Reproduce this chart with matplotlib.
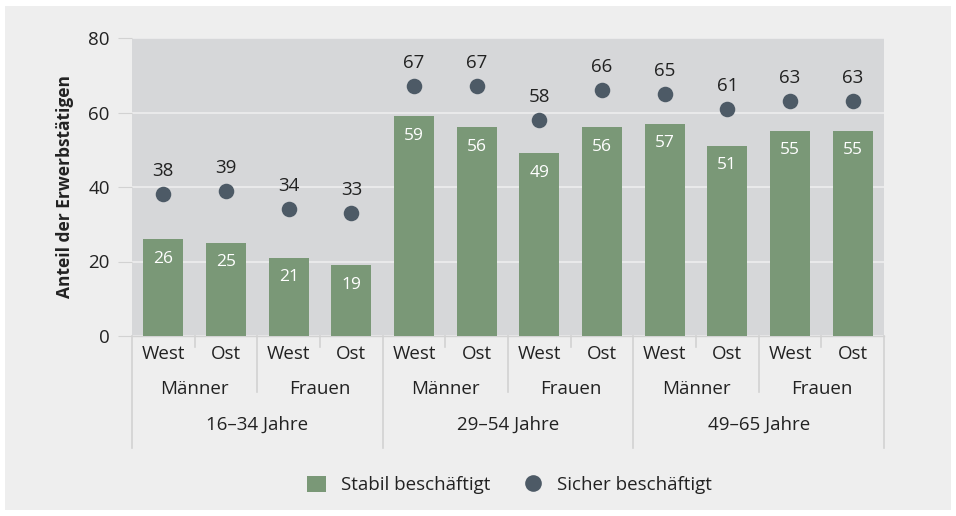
import matplotlib.pyplot as plt
from matplotlib.patches import Rectangle
from matplotlib.lines import Line2D

regions = ["West", "Ost", "West", "Ost", "West", "Ost", "West", "Ost", "West", "Ost", "West", "Ost"]
sexes = ["Männer", "Frauen", "Männer", "Frauen", "Männer", "Frauen"]
ages = ["16–34 Jahre", "29–54 Jahre", "49–65 Jahre"]
stabil = [26, 25, 21, 19, 59, 56, 49, 56, 57, 51, 55, 55]
sicher = [38, 39, 34, 33, 67, 67, 58, 66, 65, 61, 63, 63]

plt.rcParams['font.family'] = ['Open Sans', 'DejaVu Sans']

green = "#7a9877"
dot = "#4d5a66"
txt = "#222222"
sep = "#d2d2d2"

fig = plt.figure(figsize=(9.56, 5.16), dpi=100, facecolor="white")
fig.patches.append(Rectangle((5 / 956, 6 / 516), 946 / 956, 504 / 516, transform=fig.transFigure,
                             facecolor="#eeeeee", edgecolor="none", zorder=-10))
ax = fig.add_axes([132 / 956, 1 - 336 / 516, 752 / 956, 298 / 516])
ax.set_facecolor("#d6d7d9")

x = list(range(len(stabil)))
ax.bar(x, stabil, width=0.64, color=green, zorder=3)
ax.scatter(x, sicher, s=125, color=dot, zorder=4, linewidths=0)

for i in x:
    ax.text(i, stabil[i] - 5.2, str(stabil[i]), ha="center", va="center", color="white", fontsize=12.5, zorder=5)
    ax.text(i, sicher[i] + 6.2, str(sicher[i]), ha="center", va="center", color=txt, fontsize=13.5, zorder=5)

ax.set_xlim(-0.5, len(x) - 0.5)
ax.set_ylim(0, 80)
ax.set_yticks([0, 20, 40, 60, 80])
ax.yaxis.grid(True, color="#ececec", linewidth=1.3, zorder=1)
ax.set_axisbelow(True)
for s in ax.spines.values():
    s.set_visible(False)
ax.set_xticks([])
ax.tick_params(axis="y", length=10, color=sep, labelsize=13.5, labelcolor=txt, pad=6)
ax.set_ylabel("Anteil der Erwerbstätigen", fontsize=12.5, fontweight="bold", color=txt, labelpad=10)

tr = ax.get_xaxis_transform()
ax.plot([-0.5, len(x) - 0.5], [0, 0], transform=tr, color=sep, lw=1, clip_on=False)
for i, r in enumerate(regions):
    ax.text(i, -0.06, r, transform=tr, ha="center", va="center", fontsize=13.5, color=txt)
for j, s in enumerate(sexes):
    ax.text(2 * j + 0.5, -0.178, s, transform=tr, ha="center", va="center", fontsize=13.5, color=txt)
for k, a in enumerate(ages):
    ax.text(4 * k + 1.5, -0.299, a, transform=tr, ha="center", va="center", fontsize=13.5, color=txt)

for b in range(len(x) + 1):
    xb = b - 0.5
    if b % 4 == 0:
        y1 = -0.376
    elif b % 2 == 0:
        y1 = -0.188
    else:
        y1 = -0.037
    ax.plot([xb, xb], [0, y1], transform=tr, color=sep, lw=1.2, clip_on=False)

handles = [Rectangle((0, 0), 1, 1, facecolor=green, edgecolor="none"),
           Line2D([], [], marker="o", linestyle="none", markersize=12, color=dot, markeredgewidth=0)]
fig.legend(handles, ["Stabil beschäftigt", "Sicher beschäftigt"], loc="center", bbox_to_anchor=(0.533, 0.06),
           ncol=2, frameon=False, fontsize=13.5, handlelength=1.0, handleheight=1.0, columnspacing=1.8,
           labelcolor=txt)

fig.savefig("out.png", dpi=100, facecolor=fig.get_facecolor())
